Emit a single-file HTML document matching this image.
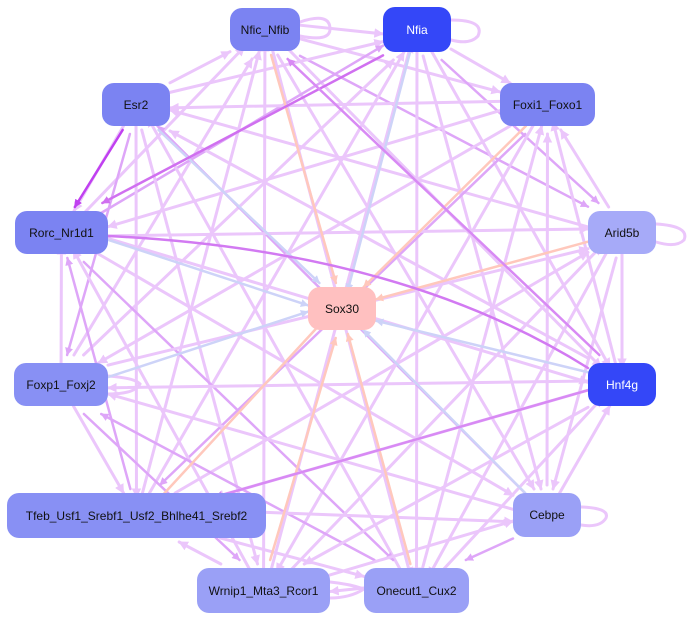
<!DOCTYPE html>
<html><head><meta charset="utf-8"><style>
html,body{margin:0;padding:0;background:#fff;width:688px;height:620px;overflow:hidden}
.n{position:absolute;border-radius:12px;font-family:"Liberation Sans",sans-serif;font-size:12px;color:#111;display:flex;align-items:center;justify-content:center}
</style></head><body>
<svg id="s" width="688" height="620" style="position:absolute;left:0;top:0" fill="none" stroke-linecap="round">
<defs></defs>
<g stroke="#ebc6fb" stroke-width="3">
<path d="M300 22 Q330 12 330 29 Q330 42 300 36"/><path d="M451 20 Q485 20 478 36 Q470 45 451 40"/><path d="M656 224 Q690 226 684 240 Q676 248 656 242"/><path d="M581 507 Q610 508 606 518 Q600 528 581 525"/><path d="M330 582 Q350 584 364 589 Q350 598 330 598"/><path d="M108 376 Q135 378 140 384 Q135 394 108 394"/>
</g>
<g id="e"></g>
</svg>
<div class="n" style="left:230px;top:8px;width:70px;height:43px;background:#7b83f2">Nfic_Nfib</div>
<div class="n" style="left:383px;top:7px;width:68px;height:45px;background:#3447f8;color:#fff">Nfia</div>
<div class="n" style="left:102px;top:83px;width:68px;height:43px;background:#7b83f2">Esr2</div>
<div class="n" style="left:500px;top:83px;width:95px;height:43px;background:#7b83f2">Foxi1_Foxo1</div>
<div class="n" style="left:15px;top:211px;width:93px;height:43px;background:#7b83f2">Rorc_Nr1d1</div>
<div class="n" style="left:588px;top:211px;width:68px;height:43px;background:#a6aaf8">Arid5b</div>
<div class="n" style="left:308px;top:287px;width:68px;height:43px;background:#ffc0c0">Sox30</div>
<div class="n" style="left:14px;top:363px;width:94px;height:43px;background:#8890f4">Foxp1_Foxj2</div>
<div class="n" style="left:588px;top:363px;width:68px;height:43px;background:#3447f8;color:#fff">Hnf4g</div>
<div class="n" style="left:7px;top:493px;width:259px;height:45px;background:#8890f4">Tfeb_Usf1_Srebf1_Usf2_Bhlhe41_Srebf2</div>
<div class="n" style="left:513px;top:493px;width:68px;height:44px;background:#9aa0f6">Cebpe</div>
<div class="n" style="left:197px;top:568px;width:133px;height:45px;background:#9aa0f6">Wrnip1_Mta3_Rcor1</div>
<div class="n" style="left:364px;top:568px;width:105px;height:45px;background:#9aa0f6">Onecut1_Cux2</div>
<script>
var N={nf:[230,8,70,43],na:[383,7,68,45],es:[102,83,68,43],fx:[500,83,95,43],ro:[15,211,93,43],ar:[588,211,68,43],so:[308,287,68,43],fp:[14,363,94,43],hn:[588,363,68,43],tf:[7,493,259,45],ce:[513,493,68,44],wr:[197,568,133,45],on:[364,568,105,45]};
var L='#ebc6fb',M='#dea6f8',B='#cdd3f8',S='#ffc8bc',P='#d070f0';
var E=[];
var keys=['nf','na','es','fx','ro','ar','fp','hn','tf','ce','wr','on'];
var k=0;
for(var i=0;i<keys.length;i++)for(var j=i+1;j<keys.length;j++){k++;var a=keys[i],b=keys[j];if(k%2)E.push([a,b,k%5==0?M:L]);else E.push([b,a,k%7==0?M:L]);}
[['hn',B],['ce',B],['es',B],['fp',B],['ro',B],['na',B],['ar',S],['nf',S],['tf',S],['wr',S],['on',S],['fx',S]].forEach(function(x){E.push([x[0],'so',x[1]])});
E.push(['es','ro','#c040f0']);E.push(['na','ro',P]);E.push(['hn','nf','#d88af4']);E.push(['hn','tf','#d88af4']);
var svg=document.getElementById('s'),g=document.getElementById('e'),defs=svg.querySelector('defs'),ns='http://www.w3.org/2000/svg',mk={};
function marker(c){if(mk[c])return mk[c];var id='m'+Object.keys(mk).length;var m=document.createElementNS(ns,'marker');m.setAttribute('id',id);m.setAttribute('viewBox','0 0 10 10');m.setAttribute('refX','9');m.setAttribute('refY','5');m.setAttribute('markerWidth','3.2');m.setAttribute('markerHeight','3.2');m.setAttribute('orient','auto');var p=document.createElementNS(ns,'path');p.setAttribute('d','M0 0L10 5L0 10z');p.setAttribute('fill',c);m.appendChild(p);defs.appendChild(m);mk[c]=id;return id;}
function clip(r,cx,cy,dx,dy){var hw=r[2]/2,hh=r[3]/2;var t=Math.min(dx?hw/Math.abs(dx):1e9,dy?hh/Math.abs(dy):1e9);return [cx+dx*t,cy+dy*t];}
E.forEach(function(e,idx){var A=N[e[0]],Bn=N[e[1]];var off=((idx%5)-2)*4;
var ax=A[0]+A[2]/2,ay=A[1]+A[3]/2+off,bx=Bn[0]+Bn[2]/2,by=Bn[1]+Bn[3]/2-off;
var dx=bx-ax,dy=by-ay;var p1=clip(A,ax,ay,dx,dy),p2=clip(Bn,bx,by,-dx,-dy);
var l=document.createElementNS(ns,'line');l.setAttribute('x1',p1[0]);l.setAttribute('y1',p1[1]);l.setAttribute('x2',p2[0]);l.setAttribute('y2',p2[1]);l.setAttribute('stroke',e[2]);l.setAttribute('stroke-width',e[2]==L?3:2.5);l.setAttribute('marker-end','url(#'+marker(e[2])+')');g.appendChild(l);});
var c=document.createElementNS(ns,'path');c.setAttribute('d','M108 236 Q400 250 588 368');c.setAttribute('stroke','#d27af2');c.setAttribute('stroke-width','2.5');c.setAttribute('marker-start','url(#'+marker('#d27af2')+')');g.appendChild(c);
</script>
</body></html>
